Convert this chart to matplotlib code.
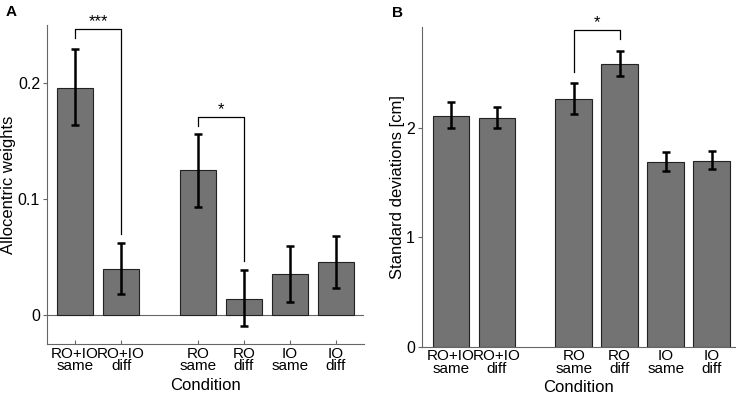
import numpy as np
import matplotlib
matplotlib.use("Agg")
from matplotlib import pyplot as plt

plt.rcParams["font.family"] = ["Liberation Sans", "DejaVu Sans"]

labels = ["RO+IO\nsame", "RO+IO\ndiff", "RO\nsame", "RO\ndiff", "IO\nsame", "IO\ndiff"]
pos = [1, 2, 3.67, 4.67, 5.67, 6.67]

# panel A: allocentric weights
w_mean = [0.1957, 0.0398, 0.1246, 0.0142, 0.0350, 0.0455]
w_lo = [0.1636, 0.0185, 0.0930, -0.0094, 0.0114, 0.0236]
w_hi = [0.2290, 0.0617, 0.1560, 0.0384, 0.0595, 0.0680]

# panel B: standard deviations [cm]
sd_mean = [2.116, 2.098, 2.272, 2.592, 1.692, 1.704]
sd_lo = [2.000, 2.000, 2.131, 2.476, 1.606, 1.624]
sd_hi = [2.238, 2.198, 2.418, 2.708, 1.780, 1.789]

bar_col = "#737373"
spine_col = "#666666"

fig = plt.figure(figsize=(7.43, 4.0), dpi=100)
axA = fig.add_axes([0.0633, 0.14, 0.4266, 0.7975])
axB = fig.add_axes([0.568, 0.1333, 0.4213, 0.80])


def draw(ax, mean, lo, hi):
    mean = np.array(mean)
    err = [mean - np.array(lo), np.array(hi) - mean]
    ax.bar(pos, mean, width=0.8, color=bar_col, edgecolor="#222222", linewidth=0.8, zorder=2)
    ax.errorbar(pos, mean, yerr=err, fmt="none", ecolor="black", elinewidth=1.8,
                capsize=3, capthick=1.8, zorder=3)
    ax.set_xticks(pos)
    ax.set_xticklabels(labels, fontsize=11, linespacing=0.88)
    ax.tick_params(axis="x", direction="in", length=3, color=spine_col, pad=2)
    ax.tick_params(axis="y", direction="out", length=3, color=spine_col, labelsize=11.5, pad=2)
    for s in ["top", "right"]:
        ax.spines[s].set_visible(False)
    for s in ["left", "bottom"]:
        ax.spines[s].set_color(spine_col)
        ax.spines[s].set_linewidth(0.8)
    ax.set_xlabel("Condition", fontsize=12, labelpad=3)


def bracket(ax, x1, x2, y_top, y1, y2, text):
    ax.plot([x1, x1, x2, x2], [y1, y_top, y_top, y2], color="black", lw=0.9,
            clip_on=False, zorder=4)
    ax.text((x1 + x2) / 2, y_top, text, ha="center", va="bottom", fontsize=12,
            clip_on=False)


draw(axA, w_mean, w_lo, w_hi)
axA.set_xlim(0.39, 7.28)
axA.set_ylim(-0.025, 0.25)
axA.set_yticks([0, 0.1, 0.2])
axA.set_yticklabels(["0", "0.1", "0.2"])
axA.axhline(0, color=spine_col, lw=0.8, zorder=1)
axA.set_ylabel("Allocentric weights", fontsize=12, labelpad=1)
bracket(axA, pos[0], pos[1], 0.2464, 0.2387, 0.0696, "***")
bracket(axA, pos[2], pos[3], 0.1705, 0.1633, 0.0469, "*")

draw(axB, sd_mean, sd_lo, sd_hi)
axB.set_xlim(0.37, 7.18)
axB.set_ylim(0, 2.93)
axB.set_yticks([0, 1, 2])
axB.set_ylabel("Standard deviations [cm]", fontsize=12, labelpad=1)
bracket(axB, pos[2], pos[3], 2.90, 2.518, 2.815, "*")

fig.text(0.008, 0.97, "A", fontsize=11, fontweight="bold", ha="left", va="center")
fig.text(0.527, 0.968, "B", fontsize=11, fontweight="bold", ha="left", va="center")

fig.savefig("out.png", dpi=100)
